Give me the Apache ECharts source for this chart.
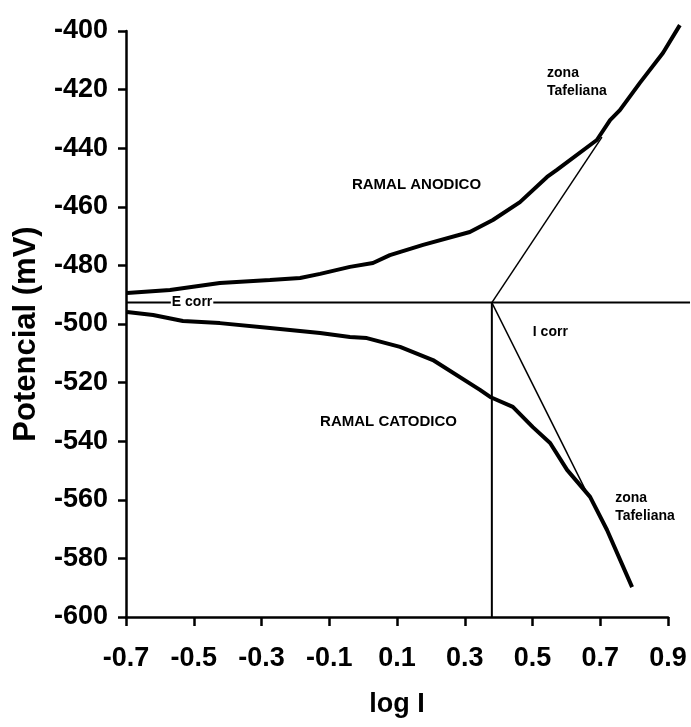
<!DOCTYPE html>
<html>
<head>
<meta charset="utf-8">
<script src="https://cdn.jsdelivr.net/npm/echarts@6/dist/echarts.min.js"></script>
<style>html,body{margin:0;padding:0;background:#fff}#c{width:691px;height:727px}</style>
</head>
<body>
<div id="c"></div>
<script>
// ---- data ----
const anodicX = [-0.697, -0.570, -0.423, -0.275, -0.186, -0.127, -0.039, 0.029, 0.079, 0.177, 0.315, 0.383, 0.463, 0.543, 0.572, 0.690, 0.729, 0.758, 0.817, 0.885, 0.935];
const anodicY = [-489.4, -488.4, -486.0, -485.0, -484.3, -482.9, -480.5, -479.2, -476.5, -473.0, -468.6, -464.5, -458.4, -449.8, -447.4, -437.2, -430.4, -427.0, -417.7, -407.5, -398.0];
const cathodicX = [-0.697, -0.620, -0.532, -0.423, -0.275, -0.127, -0.039, 0.011, 0.109, 0.206, 0.345, 0.375, 0.442, 0.501, 0.552, 0.602, 0.670, 0.720, 0.794];
const cathodicY = [-495.9, -496.9, -499.0, -499.7, -501.4, -503.1, -504.4, -504.8, -507.8, -512.3, -522.5, -524.9, -528.3, -535.2, -540.6, -549.8, -559.0, -570.3, -589.8];
const eCorr = -492.7;
const iCorr = 0.38;
const eCorrLineX = [-0.7, 0.965];
const tafelAnodicEnd = [0.705, -436.2];
const tafelCathodicEnd = [0.661, -557.7];
const xTicks = [-0.7, -0.5, -0.3, -0.1, 0.1, 0.3, 0.5, 0.7, 0.9];
const yTicks = [-600, -580, -560, -540, -520, -500, -480, -460, -440, -420, -400];
const labelTexts = ['RAMAL ANODICO', 'RAMAL CATODICO', 'zona\nTafeliana', 'zona\nTafeliana', 'I corr', 'E corr'];

// ---- chart ----
const FONT = "'Liberation Sans', Arial, sans-serif";
const W = 691, H = 727;
const G = { left: 126, right: 23, top: 31, bottom: 110 };
const xMin = xTicks[0], xMax = xTicks[xTicks.length - 1];
const yMin = yTicks[0], yMax = yTicks[yTicks.length - 1];
const pxPerX = (W - G.left - G.right) / (xMax - xMin);
const pxPerY = (H - G.top - G.bottom) / (yMax - yMin);
// second (invisible) grid with identical scale but extended bounds so lines can run past the axes
const EXT_R = 22, EXT_T = 10;
const G2 = { left: G.left, right: G.right - EXT_R, top: G.top - EXT_T, bottom: G.bottom };

const zip = (xs, ys) => xs.map((x, i) => [x, ys[i]]);
const blackLine = (w) => ({ color: '#000', width: w });

const annotations = [
  { value: [-0.033, -452.6], text: labelTexts[0], size: 15, align: 'left' },
  { value: [-0.127, -533.4], text: labelTexts[1], size: 15, align: 'left' },
  { value: [0.543, -417.4], text: labelTexts[2], size: 14, align: 'left' },
  { value: [0.744, -562.5], text: labelTexts[3], size: 14, align: 'left' },
  { value: [0.501, -502.7], text: labelTexts[4], size: 14, align: 'left' },
  { value: [-0.505, eCorr], text: labelTexts[5], size: 14, align: 'center', bg: '#fff' }
];

const lineSeries = (data, w, z) => ({
  type: 'line', xAxisIndex: 1, yAxisIndex: 1, data, symbol: 'none', clip: false,
  lineStyle: blackLine(w), itemStyle: { color: '#000' }, z, silent: true
});

const chart = echarts.init(document.getElementById('c'));
chart.setOption({
  animation: false,
  backgroundColor: '#fff',
  textStyle: { fontFamily: FONT },
  grid: [
    Object.assign({ containLabel: false, outerBoundsMode: 'none' }, G),
    Object.assign({ containLabel: false, outerBoundsMode: 'none' }, G2)
  ],
  xAxis: [{
    type: 'value', gridIndex: 0, min: xMin, max: xMax, interval: 0.2,
    name: 'log I', nameLocation: 'middle', nameGap: 74,
    nameTextStyle: { fontSize: 27, fontWeight: 'bold', color: '#000', fontFamily: FONT },
    axisLine: { show: true, onZero: false, lineStyle: { color: '#000', width: 2.5 } },
    axisTick: { show: true, inside: false, length: 9, lineStyle: { color: '#000', width: 2.5 } },
    axisLabel: { margin: 28, fontSize: 27, fontWeight: 'bold', color: '#000', fontFamily: FONT, formatter: v => v.toFixed(1) },
    splitLine: { show: false }
  }, {
    type: 'value', gridIndex: 1, min: xMin, max: xMax + EXT_R / pxPerX,
    show: false, splitLine: { show: false }
  }],
  yAxis: [{
    type: 'value', gridIndex: 0, min: yMin, max: yMax, interval: 20,
    name: 'Potencial (mV)', nameLocation: 'middle', nameGap: 84, nameRotate: 90,
    nameTextStyle: { fontSize: 31, fontWeight: 'bold', color: '#000', fontFamily: FONT, padding: [0, 20, 0, 0] },
    axisLine: { show: true, onZero: false, lineStyle: { color: '#000', width: 2.5 } },
    axisTick: { show: true, inside: false, length: 8, lineStyle: { color: '#000', width: 2.5 } },
    axisLabel: { margin: 18, fontSize: 27, fontWeight: 'bold', color: '#000', fontFamily: FONT },
    splitLine: { show: false }
  }, {
    type: 'value', gridIndex: 1, min: yMin, max: yMax + EXT_T / pxPerY,
    show: false, splitLine: { show: false }
  }],
  series: [
    lineSeries(zip(anodicX, anodicY), 4, 5),
    lineSeries(zip(cathodicX, cathodicY), 4, 5),
    lineSeries(eCorrLineX.map(x => [x, eCorr]), 2, 3),
    lineSeries([[iCorr, eCorr], [iCorr, yMin]], 2, 3),
    lineSeries([[iCorr, eCorr], tafelAnodicEnd], 1.5, 3),
    lineSeries([[iCorr, eCorr], tafelCathodicEnd], 1.5, 3),
    {
      type: 'scatter', xAxisIndex: 1, yAxisIndex: 1, symbolSize: 0, clip: false, z: 10, silent: true,
      itemStyle: { opacity: 1 },
      data: annotations.map(a => ({
        value: a.value,
        label: {
          show: true, position: 'inside', formatter: a.text, align: a.align, verticalAlign: 'middle',
          fontSize: a.size, fontWeight: 'bold', color: '#000', opacity: 1, fontFamily: FONT, lineHeight: a.size + 4,
          backgroundColor: a.bg || 'transparent', padding: a.bg ? [0, 1] : 0
        }
      }))
    }
  ]
});
</script>
</body>
</html>
